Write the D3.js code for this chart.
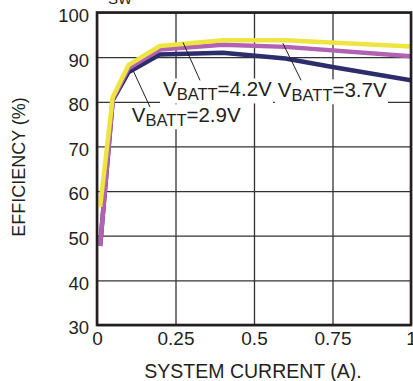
<!DOCTYPE html>
<html>
<head>
<meta charset="utf-8">
<script src="https://cdn.jsdelivr.net/npm/d3@7"></script>
<style>
  html, body { margin: 0; padding: 0; background: #fff; }
  svg { display: block; font-family: "Liberation Sans", Arial, sans-serif; }
</style>
</head>
<body>
<svg id="chart" width="413" height="381"></svg>
<script>
// system current (A) vs efficiency (%)
const current42 = [0.01, 0.05, 0.1, 0.2, 0.4, 0.6, 1.0];
const eff42 = [56.5, 81, 88.2, 92.5, 93.8, 93.8, 92.4];
const current37 = [0.01, 0.05, 0.1, 0.2, 0.4, 0.6, 1.0];
const eff37 = [47.7, 80.5, 87.5, 91.7, 92.8, 92.3, 90.2];
const current29 = [0.01, 0.05, 0.1, 0.2, 0.4, 0.6, 0.75, 1.0];
const eff29 = [47.7, 80.3, 86.6, 90.6, 91.0, 89.7, 87.8, 84.8];

const xTicks = [0, 0.25, 0.5, 0.75, 1];
const xTickLabels = ["0", "0.25", "0.5", "0.75", "1"];
const yTicks = [30, 40, 50, 60, 70, 80, 90, 100];

// label: text value, leader from/to in data units, text anchor in data units
const labels = [
  { v: "4.2V", tx: 0.21, ty: 81.2, lx1: 0.274, ly1: 93.3, lx2: 0.328, ly2: 84.8 },
  { v: "3.7V", tx: 0.576, ty: 81.0, lx1: 0.592, ly1: 93.1, lx2: 0.650, ly2: 84.8 },
  { v: "2.9V", tx: 0.111, ty: 75.4, lx1: 0.115, ly1: 87.0, lx2: 0.169, ly2: 78.8 }
];

const svg = d3.select("#chart");
const m = { left: 97, right: 411, top: 12.5, bottom: 325 };

const x = d3.scaleLinear().domain([0, 1]).range([m.left, m.right]);
const y = d3.scaleLinear().domain([30, 100]).range([m.bottom, m.top]);

const ink = "#231f20";

// grid
svg.append("g")
  .attr("transform", `translate(${m.left},0)`)
  .call(d3.axisLeft(y).tickValues(yTicks).tickSize(-(m.right - m.left)).tickFormat(""))
  .call(g => g.select(".domain").remove())
  .call(g => g.selectAll(".tick line").attr("stroke", "#333").attr("stroke-width", 1.3));

svg.append("g")
  .attr("transform", `translate(0,${m.bottom})`)
  .call(d3.axisBottom(x).tickValues(xTicks).tickSize(-(m.bottom - m.top)).tickFormat(""))
  .call(g => g.select(".domain").remove())
  .call(g => g.selectAll(".tick line").attr("stroke", "#333").attr("stroke-width", 1.3));

// tick labels
svg.append("g")
  .attr("transform", `translate(${m.left},0)`)
  .call(d3.axisLeft(y).tickValues(yTicks).tickSize(0).tickPadding(8))
  .call(g => g.select(".domain").remove())
  .call(g => g.selectAll(".tick text")
    .attr("fill", ink).attr("font-size", 18.5)
    .attr("font-family", "Liberation Sans, Arial, sans-serif")
    .attr("dy", "0.48em").attr("x", -8));

svg.append("g")
  .attr("transform", `translate(0,${m.bottom})`)
  .call(d3.axisBottom(x).tickValues(xTicks).tickSize(0).tickPadding(7)
    .tickFormat((d, i) => xTickLabels[i]))
  .call(g => g.select(".domain").remove())
  .call(g => g.selectAll(".tick text")
    .attr("fill", ink).attr("font-size", 19)
    .attr("font-family", "Liberation Sans, Arial, sans-serif"));

// lines
const line = d3.line().x(d => x(d[0])).y(d => y(d[1]));
const series = [
  { xs: current29, ys: eff29, color: "#2c2d6a" },
  { xs: current37, ys: eff37, color: "#b262b3" },
  { xs: current42, ys: eff42, color: "#eee540" }
];
svg.append("clipPath").attr("id", "plotclip")
  .append("rect").attr("x", m.left).attr("y", m.top)
  .attr("width", m.right - m.left).attr("height", m.bottom - m.top);

svg.append("g").attr("clip-path", "url(#plotclip)")
  .selectAll("path")
  .data(series)
  .join("path")
  .attr("d", s => line(s.xs.map((v, i) => [v, s.ys[i]])))
  .attr("fill", "none")
  .attr("stroke", d => d.color)
  .attr("stroke-width", 4.5)
  .attr("stroke-linejoin", "round");

// annotations
const ann = svg.append("g");
labels.forEach(l => {
  const t = ann.append("text")
    .attr("x", x(l.tx)).attr("y", y(l.ty))
    .attr("fill", ink).attr("font-size", 20.5);
  t.append("tspan").text("V");
  t.append("tspan").attr("font-size", 16.5).attr("dy", 4).text("BATT");
  t.append("tspan").attr("dy", -4).text("=" + l.v);
  const bb = t.node().getBBox();
  ann.insert("rect", "text")
    .attr("x", bb.x - 3).attr("y", bb.y + 1)
    .attr("width", bb.width + 4).attr("height", bb.height - 1)
    .attr("fill", "#fff");
  ann.append("line")
    .attr("x1", x(l.lx1)).attr("y1", y(l.ly1))
    .attr("x2", x(l.lx2)).attr("y2", y(l.ly2))
    .attr("stroke", ink).attr("stroke-width", 1);
});

// frame
svg.append("rect")
  .attr("x", m.left).attr("y", m.top)
  .attr("width", m.right - m.left).attr("height", m.bottom - m.top)
  .attr("fill", "none").attr("stroke", ink).attr("stroke-width", 2.6);

// axis titles
svg.append("text")
  .attr("transform", `translate(25,167) rotate(-90)`)
  .attr("text-anchor", "middle")
  .attr("fill", ink).attr("font-size", 18)
  .text("EFFICIENCY (%)");

svg.append("text")
  .attr("x", 253).attr("y", 378)
  .attr("text-anchor", "middle")
  .attr("fill", ink).attr("font-size", 19.5)
  .text("SYSTEM CURRENT (A).");

// clipped caption remnant at top
svg.append("text")
  .attr("x", 108).attr("y", 4)
  .attr("fill", ink).attr("font-size", 15)
  .text("SW");
</script>
</body>
</html>
